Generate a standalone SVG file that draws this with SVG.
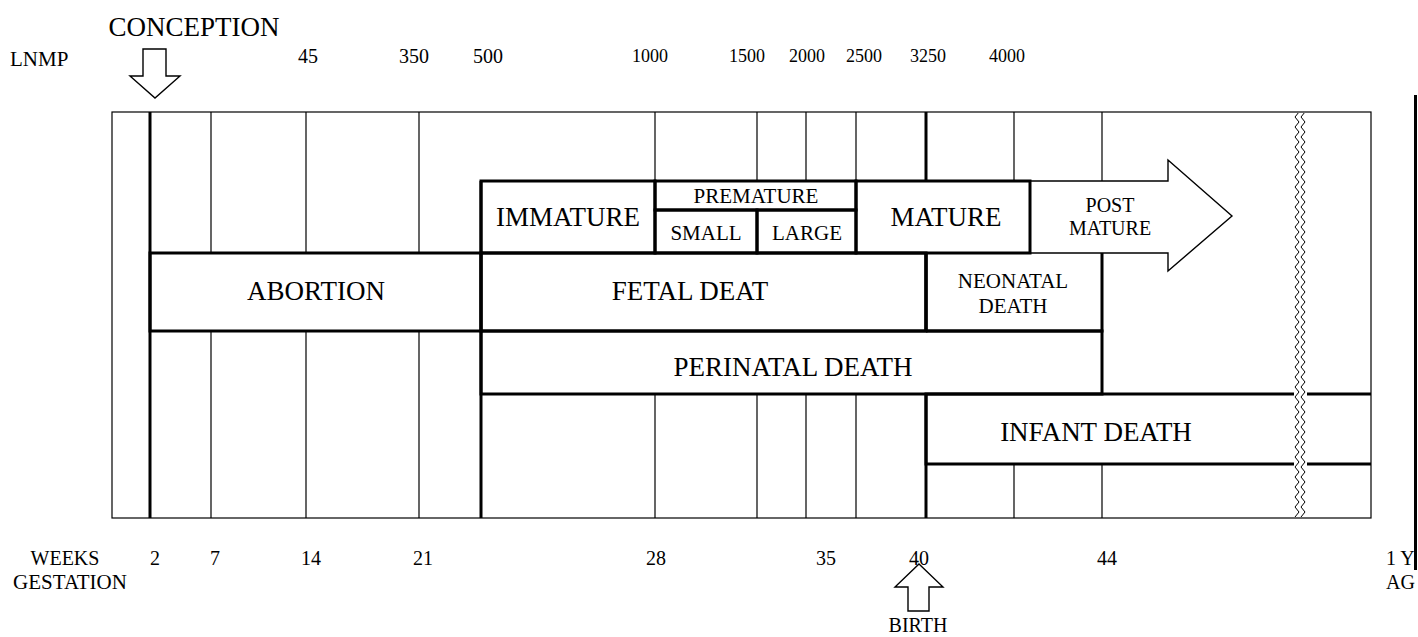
<svg xmlns="http://www.w3.org/2000/svg" width="1418" height="637" viewBox="0 0 1418 637">
<style>
text{font-family:"Liberation Serif","Times New Roman",serif;fill:#000}
.c{text-anchor:middle}
.lg{font-size:27px}
.md{font-size:21px}
.sm{font-size:20px}
.tn{font-size:18px}
.thin{stroke:#000;stroke-width:1.2;fill:none}
.thk{stroke:#000;stroke-width:3;fill:none}
.shape{stroke:#000;stroke-width:1.4;fill:#fff}
</style>
<defs>
<pattern id="zz" x="1294" y="112" width="14" height="10" patternUnits="userSpaceOnUse">
<path d="M5 0L1 5L5 10M11 0L7 5L11 10" fill="none" stroke="#000" stroke-width="1"/>
</pattern>
</defs>
<rect x="0" y="0" width="1418" height="637" fill="#fff"/>

<g id="scale-labels">
<text x="194" y="36" class="c lg">CONCEPTION</text>
<text x="10" y="66" class="md">LNMP</text>
<text x="308" y="63" class="c sm">45</text>
<text x="414" y="63" class="c sm">350</text>
<text x="488" y="63" class="c sm">500</text>
<text x="650" y="62" class="c tn">1000</text>
<text x="747" y="62" class="c tn">1500</text>
<text x="807" y="62" class="c tn">2000</text>
<text x="864" y="62" class="c tn">2500</text>
<text x="928" y="62" class="c tn">3250</text>
<text x="1007" y="62" class="c tn">4000</text>
<text x="65" y="565" class="c sm">WEEKS</text>
<text x="70" y="589" class="c md">GESTATION</text>
<text x="155" y="565" class="c sm">2</text>
<text x="215" y="565" class="c sm">7</text>
<text x="311" y="565" class="c sm">14</text>
<text x="423" y="565" class="c sm">21</text>
<text x="656" y="565" class="c sm">28</text>
<text x="826" y="565" class="c sm">35</text>
<text x="919" y="565" class="c sm">40</text>
<text x="1107" y="565" class="c sm">44</text>
<text x="1386" y="565" class="sm">1 Y</text>
<text x="1386" y="589" class="sm">AG</text>
<text x="918" y="632" class="c sm">BIRTH</text>
</g>

<g id="frame">
<rect x="112" y="112" width="1259" height="406" class="thin" stroke-width="1.5"/>
</g>

<g id="grid">
<path class="thin" d="M211 112V253M211 331V518M306 112V253M306 331V518M419 112V253M419 331V518
M655 112V181M655 394V518M757 112V181M757 394V518M806 112V181M806 394V518M856 112V181M856 394V518
M1014 112V181M1014 464V518M1102 112V181M1102 464V518"/>
<path class="thk" d="M150 112V518M481 181V518M926 112V181M926 253V331M926 394V518"/>
</g>

<g id="conception-arrow">
<polygon class="shape" points="143,49 166,49 166,76 180,76 155,98 130,76 143,76"/>
</g>

<g id="birth-arrow">
<polygon class="shape" points="919,564 943,587 929,587 929,611 908,611 908,587 895,587"/>
</g>

<g id="post-mature">
<polygon class="shape" points="1030,181 1168,181 1168,160 1232,216 1168,271 1168,253 1030,253"/>
<text x="1110" y="212" class="c sm">POST</text>
<text x="1110" y="235" class="c sm">MATURE</text>
</g>

<g id="immature">
<rect x="481" y="181" width="174" height="72" class="thk"/>
<text x="568" y="226" class="c lg">IMMATURE</text>
</g>
<g id="premature">
<rect x="655" y="181" width="201" height="29" class="thk"/>
<text x="756" y="203" class="c md">PREMATURE</text>
</g>
<g id="small">
<rect x="655" y="210" width="102" height="43" class="thk"/>
<text x="706" y="240" class="c md">SMALL</text>
</g>
<g id="large">
<rect x="757" y="210" width="99" height="43" class="thk"/>
<text x="807" y="240" class="c md">LARGE</text>
</g>
<g id="mature">
<rect x="856" y="181" width="174" height="72" class="thk"/>
<text x="946" y="226" class="c lg">MATURE</text>
</g>

<g id="abortion">
<rect x="150" y="253" width="331" height="78" class="thk"/>
<text x="316" y="300" class="c lg">ABORTION</text>
</g>
<g id="fetal-death">
<rect x="481" y="253" width="445" height="78" class="thk"/>
<text x="690" y="300" class="c lg">FETAL DEAT</text>
</g>
<g id="neonatal-death">
<path class="thk" d="M926 331V253M1102 253V331H926"/>
<text x="1013" y="288" class="c md">NEONATAL</text>
<text x="1013" y="313" class="c md">DEATH</text>
</g>
<g id="perinatal-death">
<rect x="481" y="331" width="621" height="63" class="thk"/>
<text x="793" y="376" class="c lg">PERINATAL DEATH</text>
</g>
<g id="infant-death">
<path class="thk" d="M1294 394H926V464H1294M1307 394H1371M1307 464H1371"/>
<text x="1096" y="441" class="c lg">INFANT DEATH</text>
</g>

<g id="break">
<rect x="1294" y="113" width="14" height="404" fill="url(#zz)"/>
</g>

<g id="page-edge">
<line x1="1415.5" y1="95" x2="1415.5" y2="570" stroke="#000" stroke-width="3"/>
</g>
</svg>
